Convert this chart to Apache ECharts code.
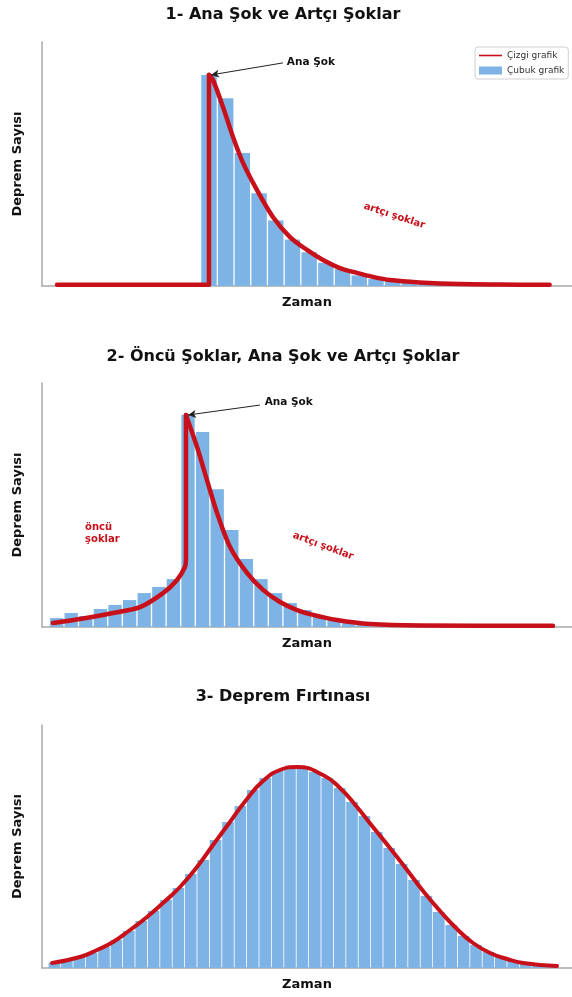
<!DOCTYPE html>
<html>
<head>
<meta charset="utf-8">
<script src="https://cdn.jsdelivr.net/npm/echarts@6/dist/echarts.min.js"></script>
<style>
html,body{margin:0;padding:0;background:#fff;}
#c{width:572px;height:997px;}
</style>
</head>
<body>
<div id="c"></div>
<script>
// ---------- Data ----------
const titles = ['1- Ana Şok ve Artçı Şoklar', '2- Öncü Şoklar, Ana Şok ve Artçı Şoklar', '3- Deprem Fırtınası'];
const xName = 'Zaman';
const yName = 'Deprem Sayısı';
const lineName = 'Çizgi grafik';
const barName = 'Çubuk grafik';

// Chart 1: main shock + aftershocks
const t1Bars = [10, 11, 12, 13, 14, 15, 16, 17, 18, 19, 20, 21, 22, 23, 24];
const n1Bars = [100, 89, 63, 44, 31, 22, 16, 11, 8, 5, 3.3, 2.4, 1.4, 0.9, 0.5];
const t1Quiet = [0.9, 10.0, 10.0];
const n1Quiet = [0.6, 0.6, 100];
const t1Decay = [10.0, 10.24, 10.84, 11.44, 12.04, 12.87, 13.83, 14.85, 15.87, 16.83, 17.84, 18.86, 19.82, 20.84, 22.6, 25.0, 27.4, 30.4];
const n1Decay = [100, 97.6, 84.8, 70.6, 58.3, 45.5, 32.7, 23.2, 17.1, 12.3, 8.5, 6.2, 4.3, 2.8, 1.7, 0.9, 0.7, 0.6];

// Chart 2: foreshocks + main shock + aftershocks
const t2Bars = [1, 2, 3, 4, 5, 6, 7, 8, 9, 10, 11, 12, 13, 14, 15, 16, 17, 18, 19, 20, 21, 22];
const n2Bars = [4.2, 6.6, 5.2, 8.5, 10.4, 12.7, 16.0, 18.9, 22.6, 100, 92, 65, 45.8, 32.1, 22.6, 16.0, 11.3, 8.0, 4.7, 3.3, 1.9, 0.9];
const t2Rise = [0.75, 2.6, 4.86, 6.71, 8.29, 9.25, 9.79, 9.86];
const n2Rise = [1.9, 3.8, 6.6, 9.4, 16.0, 22.2, 28.3, 31.6];
const t2Jump = [9.86, 9.86];
const n2Jump = [31.6, 100];
const t2Decay = [9.86, 10.62, 11.3, 11.99, 12.88, 14.04, 15.14, 16.3, 17.47, 18.56, 20.2, 22.47, 25.9, 35.0];
const n2Decay = [100, 84.9, 69.3, 53.8, 37.7, 25.5, 17.5, 11.8, 8.0, 5.7, 3.3, 1.4, 0.7, 0.6];

// Chart 3: earthquake swarm
const t3Bars = [1, 2, 3, 4, 5, 6, 7, 8, 9, 10, 11, 12, 13, 14, 15, 16, 17, 18, 19, 20, 21, 22, 23, 24, 25, 26, 27, 28, 29, 30, 31, 32, 33, 34, 35, 36, 37, 38, 39, 40, 41];
const n3Bars = [2.7, 4, 5.4, 7.5, 10.5, 14, 18.5, 23.5, 28.5, 34, 40, 47, 54, 64, 73, 81, 89, 95, 98.5, 100, 100, 98, 95, 90, 83, 76, 68, 60, 52, 44, 36, 28, 21.5, 16, 11.5, 8, 5.5, 3.5, 2.5, 1.8, 1.2];
const t3Line = [0.81, 3.06, 4.44, 5.73, 7.1, 8.47, 9.76, 11.13, 12.5, 13.79, 15.16, 16.53, 17.82, 19.19, 20.56, 22.66, 24.03, 25.4, 26.69, 28.06, 29.44, 30.73, 32.1, 33.47, 34.76, 36.13, 37.5, 38.79, 41.53];
const n3Line = [2.5, 5.5, 9, 13, 19, 25.5, 32.5, 40.5, 50.5, 61.5, 73, 84.5, 93.5, 99, 100.5, 96.5, 90, 80.5, 70.5, 60, 49, 38.5, 28.5, 19.5, 12.5, 7.5, 4.5, 2.5, 1];

// ---------- Styles ----------
const RED = '#c8101a';
const BLUE = '#7db4e5';
const FONT = 'DejaVu Sans';

function zip(a, b) { return a.map((v, i) => [v, b[i]]); }

const grids = [
  { left: 42, right: 0, top: 42, height: 244 },
  { left: 42, right: 0, top: 383, height: 244 },
  { left: 42, right: 0, top: 725, height: 243 }
];
const xMax = [31.74, 36.3, 42.74];
const yMax = [115.6, 115.1, 121.5];
const barW = [15.4, 13.3, 11.6];
const titleTop = [7, 349, 689];

const axisLine = { show: true, onZero: false, lineStyle: { color: '#a9a9a9', width: 1.5 } };

function lineSeries(idx, data, smooth, width) {
  return {
    name: lineName, type: 'line', xAxisIndex: idx, yAxisIndex: idx,
    data: data, symbol: 'none', showSymbol: false,
    smooth: smooth,
    lineStyle: { color: RED, width: width, join: 'round', cap: 'round' },
    itemStyle: { color: RED }, z: 3
  };
}
function barSeries(idx, data) {
  return {
    name: barName, type: 'bar', xAxisIndex: idx, yAxisIndex: idx,
    data: data, barWidth: barW[idx], itemStyle: { color: BLUE }, z: 2
  };
}
function textLabel(text, color, size, extra) {
  return Object.assign({ show: true, position: 'inside', formatter: text, fontFamily: FONT, fontSize: size, fontWeight: 'bold', color: color }, extra || {});
}

const s1Quiet = lineSeries(0, zip(t1Quiet, n1Quiet), false, 4.5);
const s1Decay = lineSeries(0, zip(t1Decay, n1Decay), 0.3, 4.5);
s1Decay.markLine = {
  silent: true, symbol: ['none', 'arrow'], symbolSize: [6, 8],
  lineStyle: { color: '#222', width: 1, type: 'solid' }, label: { show: false },
  data: [[{ coord: [14.43, 105.7] }, { coord: [10.12, 100] }]]
};
s1Decay.markPoint = {
  silent: true, symbol: 'circle', symbolSize: 0,
  data: [
    { coord: [16.1, 106.2], label: textLabel('Ana Şok', '#111', 10.5) },
    { coord: [21.1, 33.2], label: textLabel('artçı şoklar', RED, 10, { rotate: -18 }) }
  ]
};

const s2Rise = lineSeries(1, zip(t2Rise, n2Rise), 0.3, 4.5);
const s2Jump = lineSeries(1, zip(t2Jump, n2Jump), false, 4.5);
const s2Decay = lineSeries(1, zip(t2Decay, n2Decay), 0.3, 4.5);
s2Decay.markLine = {
  silent: true, symbol: ['none', 'arrow'], symbolSize: [6, 8],
  lineStyle: { color: '#222', width: 1, type: 'solid' }, label: { show: false },
  data: [[{ coord: [14.93, 104.7] }, { coord: [10.0, 100] }]]
};
s2Decay.markPoint = {
  silent: true, symbol: 'circle', symbolSize: 0,
  data: [
    { coord: [16.9, 106.1], label: textLabel('Ana Şok', '#111', 10.5) },
    { coord: [19.25, 38.2], label: textLabel('artçı şoklar', RED, 10, { rotate: -20 }) },
    { coord: [2.95, 44.3], label: textLabel('öncü\nşoklar', RED, 10, { position: 'right', distance: 0, lineHeight: 12 }) }
  ]
};

const s3Line = lineSeries(2, zip(t3Line, n3Line), 0.5, 4);

const option = {
  backgroundColor: '#fff',
  animation: false,
  textStyle: { fontFamily: FONT },
  title: titles.map((t, i) => ({
    text: t, left: 283, top: titleTop[i], textAlign: 'center', padding: 0,
    textStyle: { fontFamily: FONT, fontSize: 16, fontWeight: 'bold', color: '#111' }
  })),
  legend: {
    data: [
      { name: lineName, icon: 'path://M0,0 L0,0 M0,3.2 L23,3.2 L23,4.8 L0,4.8 Z M23,8 L23,8' },
      { name: barName, icon: 'rect' }
    ],
    orient: 'vertical', left: 475, top: 47,
    itemWidth: 23, itemHeight: 8, itemGap: 6,
    padding: [4, 4, 4, 4],
    borderColor: '#d0d0d0', borderWidth: 1, borderRadius: 3,
    itemStyle: { borderWidth: 0 },
    textStyle: { fontFamily: FONT, fontSize: 9, color: '#333' }
  },
  grid: grids,
  xAxis: grids.map((g, i) => ({
    type: 'value', gridIndex: i, min: 0, max: xMax[i],
    name: xName, nameLocation: 'middle', nameGap: 10,
    nameTextStyle: { fontFamily: FONT, fontSize: 13, fontWeight: 'bold', color: '#111' },
    axisLine: axisLine, axisTick: { show: false }, axisLabel: { show: false }, splitLine: { show: false }
  })),
  yAxis: grids.map((g, i) => ({
    type: 'value', gridIndex: i, min: 0, max: yMax[i],
    name: yName, nameLocation: 'middle', nameGap: 18,
    nameTextStyle: { fontFamily: FONT, fontSize: 13, fontWeight: 'bold', color: '#111' },
    axisLine: axisLine, axisTick: { show: false }, axisLabel: { show: false }, splitLine: { show: false }
  })),
  series: [
    barSeries(0, zip(t1Bars, n1Bars)), s1Quiet, s1Decay,
    barSeries(1, zip(t2Bars, n2Bars)), s2Rise, s2Jump, s2Decay,
    barSeries(2, zip(t3Bars, n3Bars)), s3Line
  ]
};

const chart = echarts.init(document.getElementById('c'), null, { renderer: 'canvas' });
chart.setOption(option);
</script>
</body>
</html>
